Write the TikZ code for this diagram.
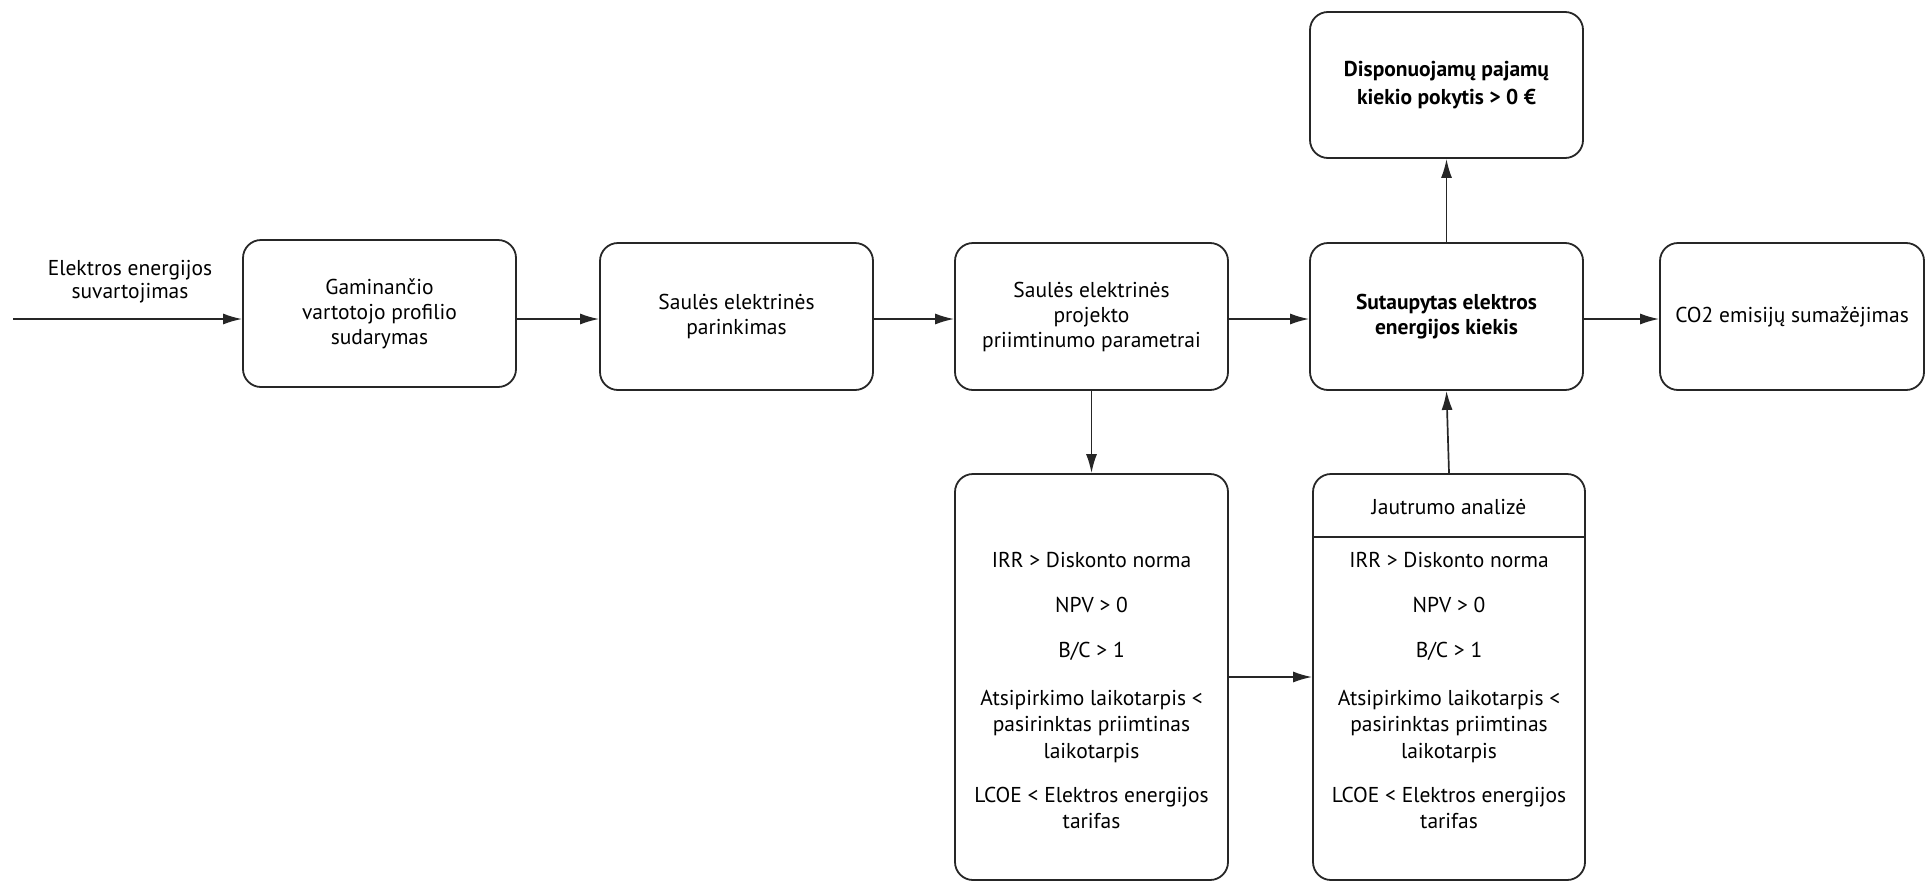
\documentclass[tikz,border=0pt]{standalone}
\usepackage{fontspec}
\setmainfont{PT Sans}
\usetikzlibrary{arrows.meta}
\begin{document}
\begin{tikzpicture}[x=1pt,y=-1pt,
  box/.style={draw=black!85, line width=1.8pt, rounded corners=18pt, minimum width=273pt, minimum height=147pt, inner sep=0pt, align=center, font=\fontsize{21.5}{25}\selectfont},
  tall/.style={box, minimum height=406pt},
  txt/.style={align=center, inner sep=0pt, font=\fontsize{21.5}{26.5}\selectfont},
  arr/.style={draw=black!85, line width=1.7pt, -{Latex[length=19pt,width=11pt]}}]
\useasboundingbox (0,0) rectangle (1926,881);
% top row
\node[box] (b1) at (379.5,313.5) {Gaminančio\\vartotojo profilio\\sudarymas};
\node[box] (b2) at (736.5,316.5) {Saulės elektrinės\\parinkimas};
\node[box] (b3) at (1091.5,316.5) {Saulės elektrinės\\projekto\\priimtinumo parametrai};
\node[box, font=\fontsize{21.5}{25}\selectfont\bfseries] (b4) at (1446.5,316.5) {Sutaupytas elektros\\energijos kiekis};
\node[box, minimum width=264pt] (b5) at (1792,316.5) {CO2 emisijų sumažėjimas};
\node[box, minimum height=146pt, font=\fontsize{21.5}{28}\selectfont\bfseries] (b6) at (1446.5,85) {Disponuojamų pajamų\\kiekio pokytis > 0 €};
% input label
\node[txt, font=\fontsize{21.5}{23}\selectfont] (lbl) at (130,282) {Elektros energijos\\suvartojimas};
\coordinate (start) at (13,319);
\coordinate (row) at (0,319);
% bottom boxes
\node[tall] (b7) at (1091.5,677) {};
\node[tall, minimum width=272pt] (b8) at (1449,677) {};
\coordinate (dv) at (0,537);
\draw[draw=black!85, line width=1.7pt] (b8.west |- dv) -- (b8.east |- dv);
\node[txt] (hdr) at (1449,507) {Jautrumo analizė};
% criteria
\foreach \bx/\cx in {c/1091.5, d/1449}{
  \node[txt] (\bx1) at (\cx,560) {IRR > Diskonto norma};
  \node[txt] (\bx2) at (\cx,605) {NPV > 0};
  \node[txt] (\bx3) at (\cx,651) {B/C > 1};
  \node[txt] (\bx4) at (\cx,726) {Atsipirkimo laikotarpis <\\pasirinktas priimtinas\\laikotarpis};
  \node[txt] (\bx5) at (\cx,808) {LCOE < Elektros energijos\\tarifas};
}
% connectors
\draw[arr] (start) -- (b1.west |- row);
\draw[arr] (b1.east |- row) -- (b2.west |- row);
\draw[arr] (b2.east |- row) -- (b3.west |- row);
\draw[arr] (b3.east |- row) -- (b4.west |- row);
\draw[arr] (b4.east |- row) -- (b5.west |- row);
\draw[arr] (b3.south) -- (b7.north);
\draw[arr] (b7.east) -- (b8.west);
\draw[arr] (b8.north) -- (b4.south);
\draw[arr] (b4.north) -- (b6.south);
\end{tikzpicture}
\end{document}
